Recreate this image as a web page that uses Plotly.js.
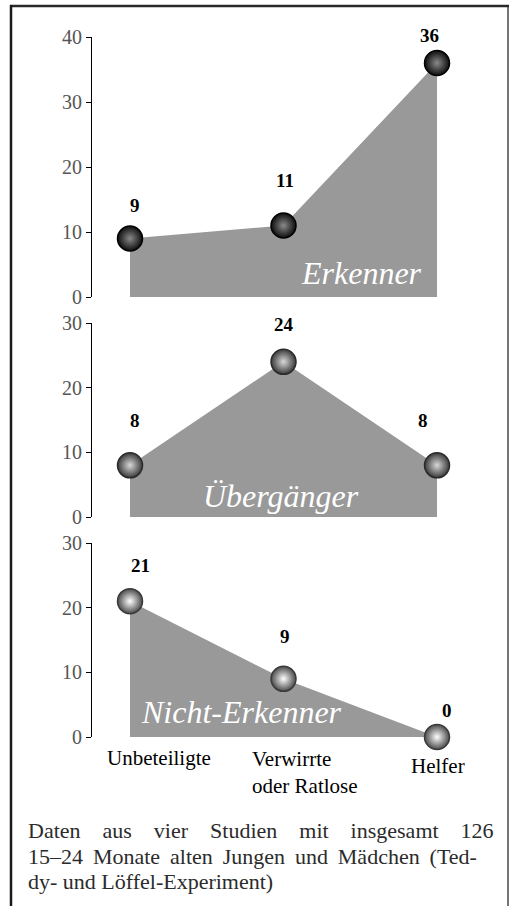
<!DOCTYPE html>
<html>
<head>
<meta charset="utf-8">
<script src="https://cdn.plot.ly/plotly-3.0.1.min.js"></script>
<style>
  html, body { margin: 0; padding: 0; background: #fff; }
</style>
</head>
<body>
<div id="chart" style="width:510px;height:906px;"></div>
<script>
// ---- data ----
const categories = ['Unbeteiligte', 'Verwirrte<br>oder Ratlose', 'Helfer'];
const groupNames = ['Erkenner', 'Übergänger', 'Nicht-Erkenner'];
const erkenner = [9, 11, 36];
const uebergaenger = [8, 24, 8];
const nichtErkenner = [21, 9, 0];
const yTicksTop = [0, 10, 20, 30, 40];
const yTicksLower = [0, 10, 20, 30];
const captionLines = [
  'Daten aus vier Studien mit insgesamt 126',
  '15–24 Monate alten Jungen und Mädchen (Ted-',
  'dy- und Löffel-Experiment)'
];

// ---- styling / geometry ----
const W = 510, H = 906;
const M = { l: 92, r: 40, t: 0, b: 0 };
const plotW = W - M.l - M.r;
const px2x = px => (px - M.l) / plotW;
const py2y = py => (H - py) / H;
const fValues = 'Liberation Serif';
const fCats = 'Times New Roman';
const fNames = 'serif';
const fCaption = 'Tinos';
const fTicks = 'Liberation Serif';

const series = [erkenner, uebergaenger, nichtErkenner];
const yaxes = ['y', 'y2', 'y3'];
const markerStyles = [
  { edge: '#0d0d0d', center: '#8a8a8a', line: '#000000' },
  { edge: '#3a3a3a', center: '#d8d8d8', line: '#2a2a2a' },
  { edge: '#4a4a4a', center: '#ffffff', line: '#3a3a3a' }
];
const labelShifts = [
  [[5, 33], [1, 45], [-8, 27]],
  [[5, 45], [0, 37], [-14, 45]],
  [[10, 36], [1, 42], [10, 27]]
];
const namePos = [[1.51, 3.7], [0.984, 3.25], [0.726, 3.87]];

const traces = series.map((vals, i) => ({
  type: 'scatter',
  x: categories,
  y: vals,
  yaxis: yaxes[i],
  xaxis: 'x',
  mode: 'lines+markers',
  fill: 'tozeroy',
  fillcolor: '#999999',
  line: { width: 0, color: '#999999' },
  marker: {
    size: 25,
    color: markerStyles[i].edge,
    gradient: { type: 'radial', color: markerStyles[i].center },
    line: { color: markerStyles[i].line, width: 1.5 }
  },
  cliponaxis: false,
  hoverinfo: 'skip'
}));

const annotations = [];
series.forEach((vals, i) => {
  vals.forEach((v, j) => {
    annotations.push({
      xref: 'x', yref: yaxes[i], x: j, y: v,
      text: '<b>' + v + '</b>', showarrow: false,
      xanchor: 'center', yanchor: 'middle',
      xshift: labelShifts[i][j][0], yshift: labelShifts[i][j][1],
      font: { family: fValues, size: 19, color: '#000' }
    });
  });
});
groupNames.forEach((n, i) => {
  annotations.push({
    xref: 'x', yref: yaxes[i], x: namePos[i][0], y: namePos[i][1],
    text: '<i>' + n + '</i>', showarrow: false,
    xanchor: 'center', yanchor: 'middle',
    font: { family: fNames, size: 32, color: '#ffffff' }
  });
});
const catStyle = [
  { xanchor: 'left', xshift: -24, yshift: -21 },
  { xanchor: 'left', xshift: -33, yshift: -35 },
  { xanchor: 'center', xshift: 1, yshift: -29 }
];
categories.forEach((c, j) => {
  annotations.push({
    xref: 'x', yref: 'y3', x: j, y: 0,
    text: c, showarrow: false, align: 'left',
    xanchor: catStyle[j].xanchor, yanchor: 'middle',
    xshift: catStyle[j].xshift, yshift: catStyle[j].yshift,
    borderpad: 0,
    font: { family: fCats, size: 21, color: '#000' }
  });
});

// caption lines (first two widened to the full width via approximate spacing)
const capCenters = [830, 856, 881];
const capSpacing = [0.30, 0.07, 0];
captionLines.forEach((line, k) => {
  annotations.push({
    xref: 'paper', yref: 'paper', x: px2x(27), y: py2y(capCenters[k]),
    text: k < 2 ? line.split(' ').join('\u00a0'.repeat(1) + (capSpacing[k] > 0.2 ? '\u00a0\u00a0\u00a0' : '\u2009')) : line,
    showarrow: false, xanchor: 'left', yanchor: 'middle', borderpad: 0,
    font: { family: fCaption, size: 22, color: '#2b2b2b' }
  });
});

const shapes = [
  { type: 'line', xref: 'paper', yref: 'paper', x0: px2x(10), x1: px2x(509), y0: py2y(6), y1: py2y(6), line: { color: '#2a2a2a', width: 2.5 } },
  { type: 'line', xref: 'paper', yref: 'paper', x0: px2x(11), x1: px2x(11), y0: py2y(5), y1: py2y(910), line: { color: '#1a1a1a', width: 2.5 } },
  { type: 'line', xref: 'paper', yref: 'paper', x0: px2x(508), x1: px2x(508), y0: py2y(5), y1: py2y(910), line: { color: '#2a2a2a', width: 1.3 } }
];

function yAxis(domainPx, range, ticks) {
  return {
    domain: [py2y(domainPx[0]), py2y(domainPx[1])],
    range: range, anchor: 'x',
    tickvals: ticks, ticktext: ticks.map(String),
    ticks: 'outside', ticklen: 5, tickwidth: 1, tickcolor: '#000',
    showline: true, linecolor: '#000', linewidth: 1,
    showgrid: false, zeroline: false, fixedrange: true,
    tickfont: { family: fTicks, size: 20, color: '#555555' }
  };
}

const layout = {
  width: W, height: H,
  font: { family: 'Liberation Serif' },
  margin: { l: M.l, r: M.r, t: M.t, b: M.b, pad: 0, autoexpand: false },
  paper_bgcolor: '#ffffff', plot_bgcolor: 'rgba(0,0,0,0)',
  showlegend: false, hovermode: false,
  xaxis: {
    type: 'category', anchor: 'y3',
    range: [-0.2476, -0.2476 + plotW / 153.5],
    visible: false, fixedrange: true
  },
  yaxis: yAxis([297, 37], [0, 40], yTicksTop),
  yaxis2: yAxis([517, 323], [0, 30], yTicksLower),
  yaxis3: yAxis([737, 543], [0, 30], yTicksLower),
  annotations: annotations,
  shapes: shapes
};

Plotly.newPlot('chart', traces, layout, { displayModeBar: false });
</script>
</body>
</html>
